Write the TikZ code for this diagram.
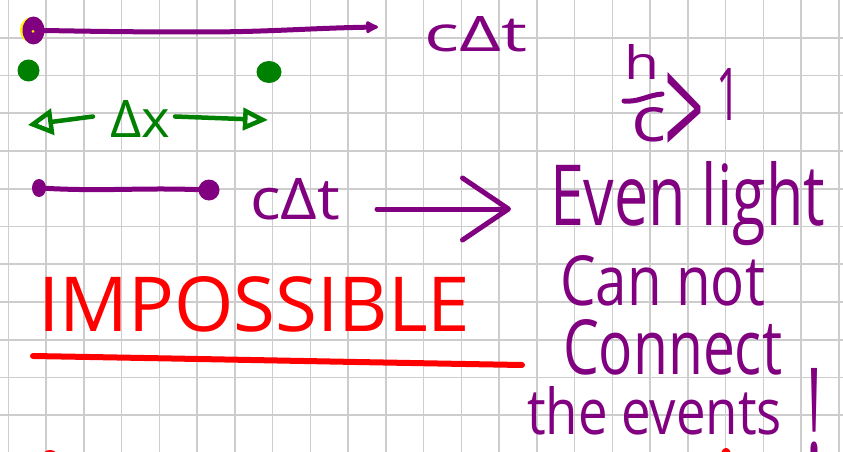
\documentclass[tikz,border=0pt]{standalone}
\usepackage{fontspec}
\setmainfont{Open Sans}
\usepackage{graphicx}
\usetikzlibrary{arrows.meta,shapes.geometric}
\definecolor{penpurple}{RGB}{128,0,128}
\definecolor{pengreen}{RGB}{0,128,0}
\definecolor{penred}{RGB}{255,0,0}
\definecolor{penyellow}{RGB}{255,240,0}
\definecolor{gridgray}{RGB}{205,205,205}
\newcommand{\fitbox}[3]{\resizebox{#1}{#2}{#3}}
\tikzset{
  gridline/.style={draw=gridgray, line width=1.6pt},
  ppen/.style={draw=penpurple, line width=5pt, line cap=round, line join=round},
  gpen/.style={draw=pengreen, line width=4.5pt, line cap=round, line join=round},
  rpen/.style={draw=penred, line width=6pt, line cap=round, line join=round},
  txt/.style={inner sep=0pt, outer sep=0pt, anchor=base west},
  blob/.style={ellipse, inner sep=0pt, outer sep=0pt},
}
\begin{document}
\begin{tikzpicture}[x=1pt,y=-1pt]
\useasboundingbox (0,0) rectangle (843,452);
\fill[white] (0,0) rectangle (843,452);
% grid paper
\foreach \k in {0,...,22} \draw[gridline] ({8.3+37.75*\k},0) -- ++(0,452);
\foreach \k in {1,...,11} \draw[gridline] (0,{37.75*\k}) -- ++(843,0);

% --- top light ray: c Delta t
\fill[penyellow] (32,30) ellipse [x radius=12, y radius=13];
\node[blob, fill=penpurple, minimum width=22pt, minimum height=28pt] (p0) at (33.5,30.5) {};
\fill[penyellow] (33,31.5) circle [radius=1.5];
\coordinate (p0end) at (378,27);
\draw[ppen, -{Latex[length=15pt,width=15pt,round]}] (p0.east) to[out=-1,in=180] (200,32) to[out=0,in=181] (p0end);
\node[txt, text=penpurple] (cdt1) at (424,52) {\fitbox{103pt}{35pt}{cΔt}};

% --- two events
\node[blob, fill=pengreen, minimum width=22pt, minimum height=22pt] (g1) at (28.5,70.5) {};
\node[blob, fill=pengreen, minimum width=25pt, minimum height=22pt] (g2) at (269,72) {};

% --- Delta x
\node[txt, text=pengreen] (dx) at (110,137) {\fitbox{60pt}{37pt}{Δx}};
\coordinate (dxl) at (28,125);
\coordinate (dxr) at (268,120);
\draw[gpen, -{Triangle[open,length=25pt,width=26pt]}] ([xshift=-17pt,yshift=2pt]dx.west) -- (dxl);
\draw[gpen, -{Triangle[open,length=25pt,width=22pt]}] ([xshift=5pt,yshift=2pt]dx.east) -- (dxr);

% --- second segment c Delta t
\node[blob, fill=penpurple, minimum width=14pt, minimum height=18pt] (m1) at (39,188) {};
\node[blob, fill=penpurple, minimum width=21pt, minimum height=21pt] (m2) at (209,190) {};
\draw[ppen] (m1) to[out=-3,in=178] (m2);
\node[txt, text=penpurple] (cdt2) at (250,219) {\fitbox{90pt}{41pt}{cΔt}};

% --- big arrow
\coordinate (ba1) at (377,209);
\coordinate (ba2) at (511,209);
\draw[ppen, -{Straight Barb[length=46pt,width=62pt,round]}] (ba1) -- (ba2);

% --- h/c > 1
\node[txt, text=penpurple] (hn) at (624,80) {\fitbox{35pt}{35pt}{h}};
\draw[ppen] (624,101) to[out=-5,in=185] (662,94);
\node[txt, text=penpurple] (cn) at (631,141) {\fitbox{35pt}{34pt}{c}};
\node[txt, text=penpurple] (gt) at (664,140) {\raisebox{-20.5pt}[72pt][0pt]{\fitbox{40pt}{88pt}{>}}};
\node[txt, text=penpurple] (one) at (716,120) {\fitbox{24pt}{52pt}{1}};

% --- right text
\node[txt, text=penpurple] (even) at (550,225) {\fitbox{275pt}{64pt}{Even light}};
\node[txt, text=penpurple] (cannot) at (560,305) {\fitbox{205pt}{50pt}{Can not}};
\node[txt, text=penpurple] (connect) at (563,374) {\fitbox{219pt}{55pt}{Connect}};
\node[txt, text=penpurple] (events) at (527,434) {\fitbox{255pt}{48pt}{the events}};
\node[txt, text=penpurple] (excl) at (806,456) {\fitbox{16pt}{88pt}{!}};

% --- IMPOSSIBLE
\node[txt, text=penred] (imp) at (38,331) {\fitbox{432pt}{55pt}{IMPOSSIBLE}};
\draw[rpen] (33,356) to[out=-1,in=179] (522,365);

% --- cut-off strokes at the bottom edge
\fill[penred] (50,457) ellipse [x radius=8, y radius=7];
\fill[penred] (726,455) ellipse [x radius=5, y radius=7];
\end{tikzpicture}
\end{document}
